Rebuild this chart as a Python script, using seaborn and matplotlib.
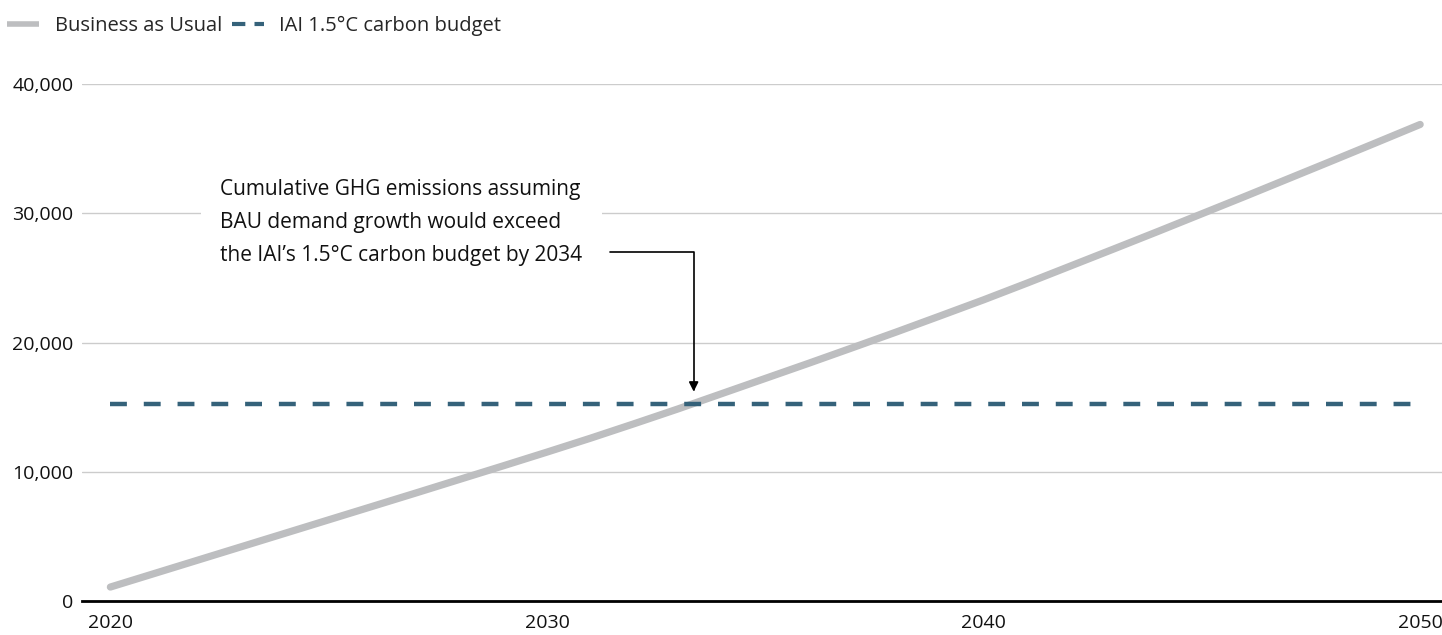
import numpy as np
import pandas as pd
import matplotlib
matplotlib.use("Agg")
import matplotlib.pyplot as plt
import seaborn as sns
from matplotlib.lines import Line2D

# Cumulative GHG emissions
years = list(range(2020, 2051))
bau = [1080, 2120, 3160, 4200, 5240, 6280, 7320, 8360, 9410, 10460,
       11520, 12600, 13720, 14860, 16040, 17220, 18400, 19600, 20810, 22050,
       23300, 24600, 25930, 27260, 28600, 29960, 31320, 32700, 34080, 35470,
       36870]
budget = [15250] * len(years)

y_ticks = [0, 10000, 20000, 30000, 40000]
x_ticks = [2020, 2030, 2040, 2050]
series_names = ["Business as Usual", "IAI 1.5°C carbon budget"]
note = ("Cumulative GHG emissions assuming\n"
        "BAU demand growth would exceed\n"
        "the IAI’s 1.5°C carbon budget by 2034")

BAU_COLOR = "#bdbec0"
BUDGET_COLOR = "#35627a"
FS = 14

df = pd.DataFrame({"year": years, "bau": bau, "budget": budget})

sns.set_style("white")
plt.rcParams["font.family"] = ["Open Sans", "DejaVu Sans"]
plt.rcParams["font.size"] = FS

fig = plt.figure(figsize=(14.42, 6.35), dpi=100)
ax = fig.add_axes([82 / 1442, 1 - 601 / 635, 1 - 82 / 1442, (601 - 84) / 635])

sns.lineplot(data=df, x="year", y="bau", ax=ax, color=BAU_COLOR, lw=5.2,
             solid_capstyle="round", zorder=3)
sns.lineplot(data=df, x="year", y="budget", ax=ax, color=BUDGET_COLOR, lw=3.2,
             dashes=False, zorder=4)
ax.lines[-1].set_dashes((3.8, 3.8))
ax.lines[-1].set_dash_capstyle("butt")

ax.set_xlim(2019.35, 2050.5)
ax.set_ylim(0, 40000)
ax.set_yticks(y_ticks)
ax.set_yticklabels([f"{v:,}" for v in y_ticks])
ax.set_xticks(x_ticks)
ax.set_xticklabels([str(v) for v in x_ticks])
ax.tick_params(axis="both", length=0, labelsize=FS, colors="#111111")
ax.tick_params(axis="y", pad=6)
ax.tick_params(axis="x", pad=9)
ax.set_xlabel("")
ax.set_ylabel("")

ax.grid(axis="y", color="#cccccc", lw=1)
ax.grid(axis="x", visible=False)
ax.set_axisbelow(True)
for s in ["top", "right", "left"]:
    ax.spines[s].set_visible(False)
ax.spines["bottom"].set_color("black")
ax.spines["bottom"].set_linewidth(2)
ax.spines["bottom"].set_zorder(5)

# annotation text with a white box that breaks the gridline
ax.text(2022.52, 29300, note, ha="left", va="center", fontsize=15,
        linespacing=1.75, color="#111111", zorder=6,
        bbox=dict(boxstyle="square,pad=0.95", facecolor="white", edgecolor="none"))
ax.annotate("", xy=(2033.36, 16200), xytext=(2031.45, 27000),
            arrowprops=dict(arrowstyle="-|>", color="black", lw=1.2,
                            mutation_scale=14, shrinkA=0, shrinkB=0,
                            connectionstyle="angle,angleA=0,angleB=90,rad=0"),
            zorder=7)

handles = [
    Line2D([], [], color=BAU_COLOR, lw=4, solid_capstyle="butt"),
    Line2D([], [], color=BUDGET_COLOR, lw=3, dashes=(3.2, 2.2)),
]
fig.legend(handles, series_names, loc="center left",
           bbox_to_anchor=(0.005, 1 - 26 / 635), ncol=2, frameon=False,
           fontsize=14.5, handlelength=1.6, handletextpad=0.75,
           columnspacing=0.5, borderpad=0, borderaxespad=0)

fig.savefig("out.png", dpi=100)
